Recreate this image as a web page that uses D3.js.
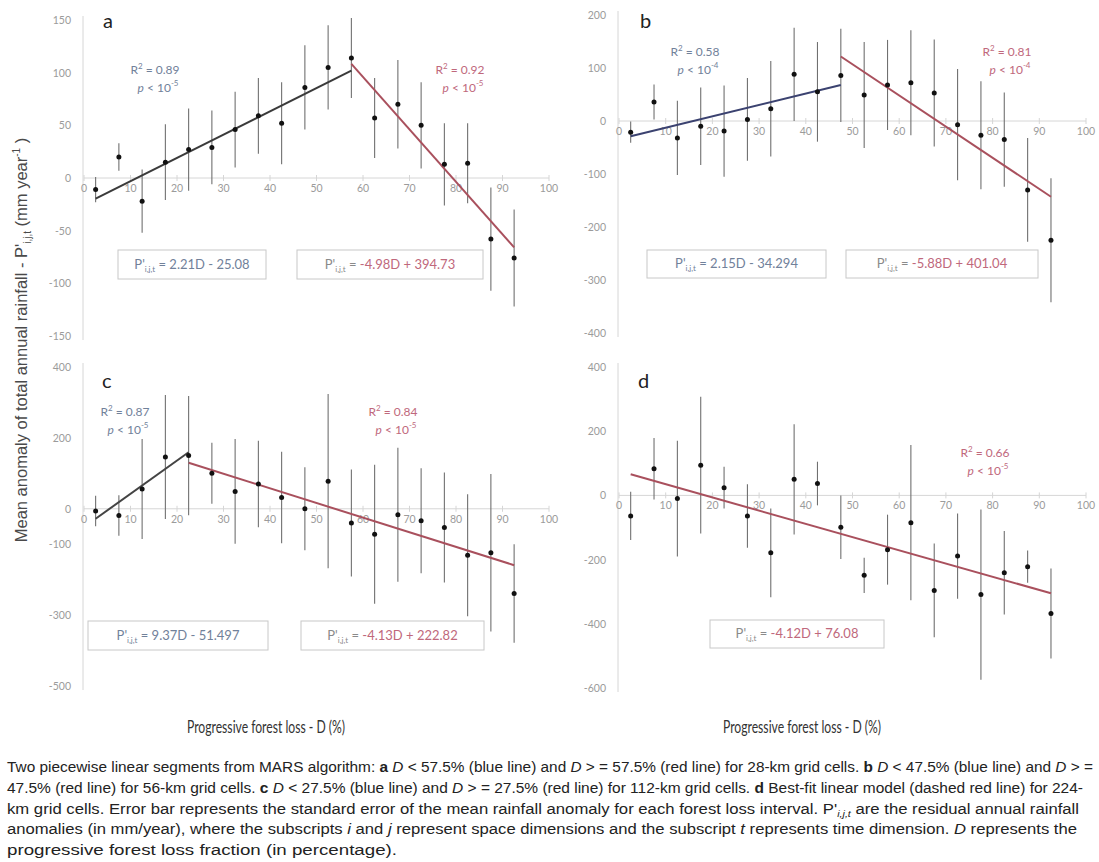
<!DOCTYPE html>
<html>
<head>
<meta charset="utf-8">
<script src="https://cdn.jsdelivr.net/npm/d3@7"></script>
<style>
body { margin: 0; background: #fff; }
svg text { font-family: Lato, "Open Sans", sans-serif; }
.tickLabel { fill: #9b9b9b; font-size: 10.5px; }
.axisLine { stroke: #d6d6d6; stroke-width: 1; }
.errBar { stroke: #707070; stroke-width: 1.1; }
.dot { fill: #111; }
.eqBox { fill: none; stroke: #c8c8c8; stroke-width: 1; }
.letter { fill: #222; font-size: 20px; }
.caption { fill: #222; font-size: 14px; font-family: "Liberation Sans Narrow", "Liberation Sans", sans-serif; }
</style>
</head>
<body>
<svg id="fig" width="1099" height="862"></svg>
<script>
// forest loss interval mid-points (%), shared by all panels
var forestLoss = [2.5, 7.5, 12.5, 17.5, 22.5, 27.5, 32.5, 37.5, 42.5, 47.5, 52.5, 57.5, 62.5, 67.5, 72.5, 77.5, 82.5, 87.5, 92.5];
var xTicks = [0, 10, 20, 30, 40, 50, 60, 70, 80, 90, 100];

// panel a - 28-km grid cells
var meanA = [-11, 20, -22, 15, 27, 29, 46, 59, 52, 86, 105, 114, 57, 70, 50, 13, 14, -58, -76];
var errA = [12, 13, 30, 36, 39, 35, 36, 36, 39, 40, 40, 38, 38, 42, 41, 39, 38, 49, 46];
var ticksA = [150, 100, 50, 0, -50, -100, -150];
var fitsA = [[2.5, 57.5, 2.21, -25.08], [57.5, 92.5, -4.98, 394.73]];
var statsA = [["0.89", "-5"], ["0.92", "-5"]];
var eqA = [["2.21D - 25.08"], ["-4.98D + 394.73"]];

// panel b - 56-km grid cells
var meanB = [-21, 36, -32, -10, -19, 3, 23, 88, 55, 86, 49, 68, 72, 53, -7, -27, -35, -130, -225];
var errB = [20, 33, 70, 73, 86, 78, 90, 88, 94, 88, 100, 85, 99, 101, 105, 102, 89, 98, 117];
var ticksB = [200, 100, 0, -100, -200, -300, -400];
var fitsB = [[2.5, 47.5, 2.15, -34.294], [47.5, 92.5, -5.88, 401.04]];
var statsB = [["0.58", "-4"], ["0.81", "-4"]];
var eqB = [["2.15D - 34.294"], ["-5.88D + 401.04"]];

// panel c - 112-km grid cells
var meanC = [-6, -19, 56, 146, 150, 100, 49, 70, 32, 0, 78, -40, -72, -17, -34, -53, -131, -124, -239];
var errC = [43, 57, 141, 175, 168, 86, 148, 122, 129, 117, 246, 151, 196, 189, 148, 155, 172, 222, 139];
var ticksC = [400, 200, 0, -100, -300, -500];
var fitsC = [[2.5, 22.5, 9.37, -51.497], [22.5, 92.5, -4.13, 222.82]];
var statsC = [["0.87", "-5"], ["0.84", "-5"]];
var eqC = [["9.37D - 51.497"], ["-4.13D + 222.82"]];

// panel d - 224-km grid cells
var meanD = [-64, 83, -10, 94, 24, -64, -179, 50, 37, -99, -249, -169, -85, -296, -189, -309, -241, -222, -368];
var errD = [75, 96, 180, 213, 65, 99, 138, 172, 68, 99, 55, 109, 242, 146, 133, 265, 130, 50, 140];
var ticksD = [400, 200, 0, -200, -400, -600];
var fitsD = [[2.5, 92.5, -4.12, 76.08]];
var statsD = [["0.66", "-5"]];
var eqD = [["-4.12D + 76.08"]];

var svg = d3.select("#fig");
var RED = "#a9505d", RED_TXT = "#c0687c", BLUE_TXT = "#71819a", GREY_TXT = "#8a8a8a";

var panels = [
    { letter: "a", mean: meanA, err: errA, ticks: ticksA, fits: fitsA, stats: statsA, eq: eqA,
      xr: [84, 549], yd: [150, -150], yr: [20, 336], letterPos: [103, 28],
      segColors: ["#3a3a3a", RED], statPos: [[155, 74], [460, 74]],
      boxes: [[118, 250, 148, 29], [297, 250, 186, 29]] },
    { letter: "b", mean: meanB, err: errB, ticks: ticksB, fits: fitsB, stats: statsB, eq: eqB,
      xr: [619, 1086], yd: [200, -400], yr: [15, 333], letterPos: [640, 28],
      segColors: ["#3b4270", RED], statPos: [[695, 56], [1007, 56]],
      boxes: [[647, 250, 179, 28], [846, 250, 192, 28]] },
    { letter: "c", mean: meanC, err: errC, ticks: ticksC, fits: fitsC, stats: statsC, eq: eqC,
      xr: [84, 549], yd: [400, -500], yr: [367, 686], letterPos: [102, 388],
      segColors: ["#444", RED], statPos: [[125, 416], [393, 416]],
      boxes: [[88, 621, 180, 29], [301, 621, 183, 29]] },
    { letter: "d", mean: meanD, err: errD, ticks: ticksD, fits: fitsD, stats: statsD, eq: eqD,
      xr: [619, 1086], yd: [400, -600], yr: [367, 688], letterPos: [638, 388],
      segColors: [RED], statPos: [[985, 457]],
      boxes: [[710, 620, 174, 28]] }
];

panels.forEach(function (p) {
    var x = d3.scaleLinear().domain([0, 100]).range(p.xr);
    var y = d3.scaleLinear().domain(p.yd).range(p.yr);
    var g = svg.append("g").attr("class", "panel " + p.letter);
    var y0 = y(0);
    var yAxisX = x(0) - 1;

    // value axis
    g.append("line").attr("class", "axisLine")
        .attr("x1", yAxisX).attr("x2", yAxisX)
        .attr("y1", y(p.yd[0]) - 4).attr("y2", y(p.yd[1]) + 4);
    g.selectAll(".yTick").data(p.ticks).enter().append("text")
        .attr("class", "tickLabel yTick")
        .attr("x", yAxisX - 12).attr("y", function (d) { return y(d) + 4; })
        .attr("text-anchor", "end")
        .text(function (d) { return d; });

    // zero line with ticks + labels below
    g.append("line").attr("class", "axisLine")
        .attr("x1", x(0)).attr("x2", x(100)).attr("y1", y0).attr("y2", y0);
    g.selectAll(".xTickMark").data(xTicks).enter().append("line")
        .attr("class", "axisLine")
        .attr("x1", function (d) { return x(d); }).attr("x2", function (d) { return x(d); })
        .attr("y1", y0 - 3).attr("y2", y0 + 3);
    g.selectAll(".xTick").data(xTicks).enter().append("text")
        .attr("class", "tickLabel xTick")
        .attr("x", function (d) { return x(d); }).attr("y", y0 + 14)
        .attr("text-anchor", "middle")
        .text(function (d) { return d; });

    // error bars
    g.selectAll(".errBar").data(p.mean).enter().append("line")
        .attr("class", "errBar")
        .attr("x1", function (d, i) { return x(forestLoss[i]); })
        .attr("x2", function (d, i) { return x(forestLoss[i]); })
        .attr("y1", function (d, i) { return y(d + p.err[i]); })
        .attr("y2", function (d, i) { return y(d - p.err[i]); });

    // fitted segments
    var line = d3.line().x(function (d) { return x(d[0]); }).y(function (d) { return y(d[1]); });
    p.fits.forEach(function (f, i) {
        g.append("path")
            .attr("d", line([[f[0], f[2] * f[0] + f[3]], [f[1], f[2] * f[1] + f[3]]]))
            .attr("stroke", p.segColors[i]).attr("stroke-width", 2).attr("fill", "none");
    });

    // mean points
    g.selectAll(".dot").data(p.mean).enter().append("circle")
        .attr("class", "dot")
        .attr("cx", function (d, i) { return x(forestLoss[i]); })
        .attr("cy", function (d) { return y(d); })
        .attr("r", 2.5);

    // panel letter
    g.append("text").attr("class", "letter")
        .attr("x", p.letterPos[0]).attr("y", p.letterPos[1]).text(p.letter);

    // R2 / p annotations
    p.stats.forEach(function (s, i) {
        var isRed = p.segColors[i] === RED;
        var col = isRed ? RED_TXT : BLUE_TXT;
        var pos = p.statPos[i];
        var t1 = g.append("text").attr("x", pos[0]).attr("y", pos[1])
            .attr("text-anchor", "middle").attr("fill", col).style("font-size", "12px");
        t1.append("tspan").text("R");
        t1.append("tspan").attr("dy", -5).style("font-size", "8px").text("2");
        t1.append("tspan").attr("dy", 5).text(" = " + s[0]);
        var t2 = g.append("text").attr("x", pos[0] + 3).attr("y", pos[1] + 18)
            .attr("text-anchor", "middle").attr("fill", col).style("font-size", "12px");
        t2.append("tspan").style("font-style", "italic").text("p");
        t2.append("tspan").text(" < 10");
        t2.append("tspan").attr("dy", -6).style("font-size", "8px").text(s[1]);
    });

    // equation boxes
    p.boxes.forEach(function (b, i) {
        var isRed = p.segColors[i] === RED;
        g.append("rect").attr("class", "eqBox")
            .attr("x", b[0]).attr("y", b[1]).attr("width", b[2]).attr("height", b[3]);
        var t = g.append("text").attr("x", b[0] + b[2] / 2).attr("y", b[1] + b[3] / 2 + 4)
            .attr("text-anchor", "middle").style("font-size", "13px")
            .attr("fill", isRed ? GREY_TXT : BLUE_TXT);
        t.append("tspan").text("P'");
        t.append("tspan").attr("dy", 3).style("font-size", "8px").text("i,j,t");
        t.append("tspan").attr("dy", -3).text(" = ");
        t.append("tspan").attr("fill", isRed ? RED_TXT : BLUE_TXT).text(p.eq[i][0]);
    });
});

// shared y axis title
var yTitle = svg.append("text")
    .attr("transform", "translate(27,340) rotate(-90)")
    .attr("text-anchor", "middle")
    .attr("fill", "#4a4a4a")
    .style("font-family", "'Liberation Sans', Arial, sans-serif")
    .style("font-size", "16.5px");
yTitle.append("tspan").text("Mean anomaly of total annual rainfall - P'");
yTitle.append("tspan").attr("dy", 4).style("font-size", "10px").text("i,j,t");
yTitle.append("tspan").attr("dy", -4).text(" (mm year");
yTitle.append("tspan").attr("dy", -7).style("font-size", "10px").text("-1");
yTitle.append("tspan").attr("dy", 7).text(" )");

// x axis titles
[266, 802].forEach(function (cx) {
    svg.append("text").attr("x", cx).attr("y", 733)
        .attr("text-anchor", "middle").attr("fill", "#333")
        .attr("textLength", 158).attr("lengthAdjust", "spacingAndGlyphs")
        .style("font-size", "17px")
        .text("Progressive forest loss - D (%)");
});

// caption
var capLines = [
    { w: 1086, parts: [["Two piecewise linear segments from MARS algorithm: "], ["a", "b"], [" "], ["D", "i"], [" < 57.5% (blue line) and "], ["D", "i"], [" > = 57.5% (red line) for 28-km grid cells. "], ["b", "b"], [" "], ["D", "i"], [" < 47.5% (blue line) and "], ["D", "i"], [" > ="]] },
    { w: 1076, parts: [["47.5% (red line) for 56-km grid cells. "], ["c", "b"], [" "], ["D", "i"], [" < 27.5% (blue line) and "], ["D", "i"], [" > = 27.5% (red line) for 112-km grid cells. "], ["d", "b"], [" Best-fit linear model (dashed red line) for 224-"]] },
    { w: 1072, parts: [["km grid cells. Error bar represents the standard error of the mean rainfall anomaly for each forest loss interval. P'"], ["i,j,t", "s"], [" are the residual annual rainfall"]] },
    { w: 1070, parts: [["anomalies (in mm/year), where the subscripts "], ["i", "i"], [" and "], ["j", "i"], [" represent space dimensions and the subscript "], ["t", "i"], [" represents time dimension. "], ["D", "i"], [" represents the"]] },
    { w: 390, parts: [["progressive forest loss fraction (in percentage)."]] }
];
capLines.forEach(function (ln, k) {
    var t = svg.append("text").attr("class", "caption")
        .attr("x", 7).attr("y", 772 + k * 20.8)
        .attr("textLength", ln.w).attr("lengthAdjust", "spacingAndGlyphs");
    var afterSub = false;
    ln.parts.forEach(function (pt) {
        var s = t.append("tspan").text(pt[0]);
        if (pt[1] === "b") s.style("font-weight", "bold");
        if (pt[1] === "i") s.style("font-style", "italic");
        if (pt[1] === "s") {
            s.style("font-style", "italic").style("font-size", "9px").attr("dy", 3);
            afterSub = true;
        } else if (afterSub) {
            s.attr("dy", -3);
            afterSub = false;
        }
    });
});
</script>
</body>
</html>
